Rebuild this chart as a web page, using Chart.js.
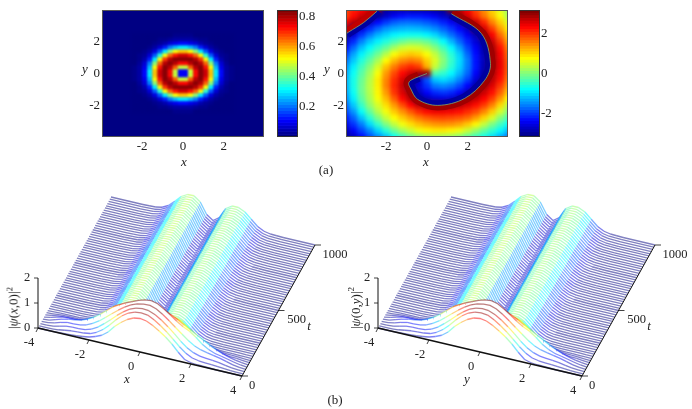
<!DOCTYPE html>
<html><head><meta charset="utf-8">
<script src="https://cdn.jsdelivr.net/npm/chart.js@4/dist/chart.umd.min.js"></script>
<style>
html,body{margin:0;padding:0;background:#fff}
#page{position:relative;width:692px;height:409px;overflow:hidden;font-family:"Liberation Serif",serif;color:#222}
canvas{position:absolute;display:block}
.plot{position:absolute;overflow:hidden;width:160px;height:125px;top:11px;outline:1px solid #555}
.bar{position:absolute;width:19px;height:125px;top:11px;outline:1px solid #333}
.t{position:absolute;font-size:13px;line-height:13px;white-space:nowrap;transform:translate(-50%,-50%)}
.r{transform:translate(-50%,-50%) rotate(-90deg)}
sup{font-size:9px;line-height:0}
</style></head><body><div id="page">
<div class="plot" style="left:103px;background:#000083"><canvas id="ampHeat"></canvas></div>
<div class="plot" style="left:347px"><canvas id="phaseHeat"></canvas></div>
<div class="bar" style="left:278px"></div>
<div class="bar" style="left:520px"></div>
<canvas id="ampAxes"></canvas><canvas id="phaseAxes"></canvas>
<canvas id="ampBar"></canvas><canvas id="phaseBar"></canvas>
<canvas id="fallX"></canvas><canvas id="fallY"></canvas>
<span class="t" style="left:85px;top:68px"><i>y</i></span>
<span class="t" style="left:184px;top:161px"><i>x</i></span>
<span class="t" style="left:327px;top:68px"><i>y</i></span>
<span class="t" style="left:426px;top:161px"><i>x</i></span>
<span class="t" style="left:326px;top:169px">(a)</span>
<span class="t" style="left:335px;top:399px">(b)</span>
<span class="t r" style="left:13px;top:308px">|<i>ψ</i>(<i>x</i>,0)|<sup>2</sup></span>
<span class="t r" style="left:355px;top:308px">|<i>ψ</i>(0,<i>y</i>)|<sup>2</sup></span>
<span class="t" style="left:127px;top:378px"><i>x</i></span>
<span class="t" style="left:467px;top:378px"><i>y</i></span>
<span class="t" style="left:309px;top:325px"><i>t</i></span>
<span class="t" style="left:649px;top:325px"><i>t</i></span>
</div>
<script>
// ---------- panel (a) left: |psi|^2 (hundredths), cells 0.25 wide
const ampCols=[-2.375,-2.125,-1.875,-1.625,-1.375,-1.125,-0.875,-0.625,-0.375,-0.125,0.125,0.375,0.625,0.875,1.125,1.375,1.625,1.875,2.125,2.375];
const ampRows=[2.375,2.125,1.875,1.625,1.375,1.125,0.875,0.625,0.375,0.125,-0.125,-0.375,-0.625,-0.875,-1.125,-1.375,-1.625,-1.875,-2.125,-2.375];
const ampGrid=[
[0,0,0,0,0,0,0,0,1,1,1,1,0,0,0,0,0,0,0,0],
[0,0,0,0,0,1,1,2,3,3,3,3,2,1,1,0,0,0,0,0],
[0,0,0,0,1,2,4,7,9,11,11,9,7,4,2,1,0,0,0,0],
[0,0,0,1,3,7,13,21,26,30,30,26,21,13,7,3,1,0,0,0],
[0,0,1,3,8,18,30,43,52,57,57,52,43,30,18,8,3,1,0,0],
[0,1,2,7,18,35,52,65,72,77,77,72,65,52,35,18,7,2,1,0],
[0,1,4,13,30,52,69,79,83,83,83,83,79,69,52,30,13,4,1,0],
[0,2,7,21,43,65,79,83,79,73,73,79,83,79,65,43,21,7,2,0],
[1,3,9,26,52,72,83,79,66,48,48,66,79,83,72,52,26,9,3,1],
[1,3,11,30,57,77,83,73,48,10,10,48,73,83,77,57,30,11,3,1],
[1,3,11,30,57,77,83,73,48,10,10,48,73,83,77,57,30,11,3,1],
[1,3,9,26,52,72,83,79,66,48,48,66,79,83,72,52,26,9,3,1],
[0,2,7,21,43,65,79,83,79,73,73,79,83,79,65,43,21,7,2,0],
[0,1,4,13,30,52,69,79,83,83,83,83,79,69,52,30,13,4,1,0],
[0,1,2,7,18,35,52,65,72,77,77,72,65,52,35,18,7,2,1,0],
[0,0,1,3,8,18,30,43,52,57,57,52,43,30,18,8,3,1,0,0],
[0,0,0,1,3,7,13,21,26,30,30,26,21,13,7,3,1,0,0,0],
[0,0,0,0,1,2,4,7,9,11,11,9,7,4,2,1,0,0,0,0],
[0,0,0,0,0,1,1,2,3,3,3,3,2,1,1,0,0,0,0,0],
[0,0,0,0,0,0,0,0,1,1,1,1,0,0,0,0,0,0,0,0]];
const ampBarLevels=[0,.02,.04,.06,.08,.1,.12,.14,.16,.18,.2,.22,.24,.26,.28,.3,.32,.34,.36,.38,.4,.42,.44,.46,.48,.5,.52,.54,.56,.58,.6,.62,.64,.66,.68,.7,.72,.74,.76,.78,.8,.82,.84];
const ampBarTicks=[0.2,0.4,0.6,0.8];
const ampMax=0.84;
// ---------- panel (a) right: phase in degrees, cells 0.4 wide
const phaseCols=[-4,-3.6,-3.2,-2.8,-2.4,-2,-1.6,-1.2,-0.8,-0.4,0,0.4,0.8,1.2,1.6,2,2.4,2.8,3.2,3.6,4];
const phaseRows=[4,3.6,3.2,2.8,2.4,2,1.6,1.2,0.8,0.4,0,-0.4,-0.8,-1.2,-1.6,-2,-2.4,-2.8,-3.2,-3.6,-4];
const phaseGrid=[
[110,125,135,150,175,-170,-165,-165,-165,-165,-165,-170,-175,175,160,135,110,85,60,35,10],
[111,133,152,169,-172,-154,-140,-132,-128,-128,-132,-140,-154,-168,172,148,120,93,68,43,15],
[136,158,179,-156,-133,-116,-103,-97,-96,-98,-104,-112,-124,-139,-157,180,153,122,89,62,34],
[160,-177,-148,-121,-100,-83,-75,-71,-69,-71,-77,-87,-101,-117,-135,-155,178,149,114,79,50],
[-178,-150,-117,-92,-71,-59,-48,-42,-40,-40,-47,-58,-76,-96,-116,-139,-161,170,137,98,64],
[-158,-122,-90,-65,-49,-34,-21,-9,-1,-2,-9,-24,-45,-71,-99,-124,-149,-173,154,116,76],
[-135,-98,-67,-45,-26,-9,12,28,33,30,20,2,-21,-46,-78,-111,-138,-165,167,130,89],
[-116,-78,-49,-27,-6,19,44,58,64,59,44,23,-4,-32,-62,-99,-132,-161,173,138,98],
[-100,-64,-34,-11,14,45,69,86,93,87,62,33,3,-26,-57,-91,-130,-159,174,142,102],
[-88,-50,-22,3,31,66,92,113,123,115,74,25,-3,-31,-60,-92,-129,-161,172,142,104],
[-80,-42,-14,13,43,81,110,134,152,164,170,-16,-28,-46,-70,-99,-137,-167,166,138,100],
[-76,-38,-8,19,51,88,120,149,177,-155,-106,-65,-57,-67,-88,-114,-149,-177,158,130,92],
[-78,-38,-6,21,50,89,123,154,-177,-147,-118,-93,-87,-94,-111,-135,-166,169,146,116,80],
[-82,-42,-7,19,48,81,118,148,176,-157,-136,-121,-116,-122,-136,-161,174,153,131,102,64],
[-91,-50,-13,15,42,69,102,134,159,-178,-160,-150,-147,-152,-168,171,154,135,113,82,45],
[-104,-64,-26,7,31,56,81,109,135,156,171,178,179,171,159,146,131,115,90,58,22],
[-116,-82,-43,-10,19,41,64,84,104,122,133,140,140,138,132,121,109,88,63,30,2],
[-130,-101,-66,-31,-2,25,45,63,79,93,103,109,111,109,105,97,80,59,32,3,-20],
[-146,-118,-91,-58,-27,0,23,41,56,68,76,82,84,83,77,64,47,24,-1,-22,-44],
[-165,-137,-112,-87,-60,-32,-8,12,26,40,48,52,52,48,40,26,8,-11,-28,-47,-69],
[-175,-159,-134,-110,-88,-68,-45,-26,-10,2,10,14,12,8,-1,-14,-26,-40,-56,-75,-95]];
const phaseBarLevels=[-3.14,-3,-2.86,-2.72,-2.58,-2.44,-2.3,-2.16,-2.02,-1.88,-1.74,-1.6,-1.46,-1.32,-1.18,-1.04,-.9,-.76,-.62,-.48,-.34,-.2,-.06,.08,.22,.36,.5,.64,.78,.92,1.06,1.2,1.34,1.48,1.62,1.76,1.9,2.04,2.18,2.32,2.46,2.6,2.74,2.88,3.02,3.14];
const phaseBarTicks=[-2,0,2];
const planeTicks=[-2,0,2];
// the phase jump: the curve and the dark red / dark blue rims on its two sides
const cutX=[0,-0.4,-0.79,-0.9,-0.82,-0.46,0.53,1.85,2.83,3.11,2.67,1.19];
const cutY=[0,-0.2,-0.42,-0.62,-0.9,-1.62,-2,-1.56,-0.42,0.62,2.5,3.75];
const rimRedX=[-0.44,-0.87,-1.03,-0.94,-0.57,0.53,1.92,2.95,3.24,2.78,1.26];
const rimRedY=[-0.05,-0.29,-0.6,-0.95,-1.7,-2.16,-1.7,-0.49,0.64,2.58,3.89];
const rimBlueX=[-0.36,-0.71,-0.77,-0.7,-0.35,0.53,1.78,2.71,2.98,2.56,1.12];
const rimBlueY=[-0.35,-0.55,-0.64,-0.85,-1.54,-1.84,-1.42,-0.35,0.6,2.42,3.61];
const cut2X=[-2.44,-3.1,-3.84,-3.95];
const cut2Y=[3.92,3.2,2.6,2.5];
const rim2RedX=[-2.56,-3.2,-3.92,-4.03];
const rim2RedY=[3.98,3.3,2.72,2.62];
const rim2BlueX=[-2.32,-3,-3.76,-3.87];
const rim2BlueY=[3.85,3.1,2.48,2.38];
const fallGrid=[-4,-3.75,-3.5,-3.25,-3,-2.75,-2.5,-2.25,-2,-1.75,-1.5,-1.25,-1,-0.75,-0.5,-0.25,0,0.25,0.5,0.75,1,1.25,1.5,1.75,2,2.25,2.5,2.75,3,3.25,3.5,3.75,4];
const fallTimes=[0,17,33,50,67,83,100,117,133,150,167,183,200,217,233,250,267,283,300,317,333,350,367,383,400,417,433,450,467,483,500,517,533,550,567,583,600,617,633,650,667,683,700,717,733,750,767,783,800,817,833,850,867,883,900,917,933,950,967,983,1000];
const earlyProfiles=[
[0,0,0,.01,.02,.03,.05,.08,.12,.2,.31,.5,.78,1,1.18,1.3,1.34,1.3,1.18,1.02,.84,.62,.35,.12,.05,.03,.02,.01,0,0,0,0,0],
[0,0,0,.02,.06,.1,.12,.13,.17,.28,.45,.68,.95,1.18,1.35,1.45,1.48,1.45,1.32,1.15,.95,.72,.48,.28,.15,.1,.08,.07,.05,.03,.01,0,0],
[0,0,.02,.08,.14,.16,.16,.18,.26,.4,.6,.82,1.05,1.25,1.42,1.52,1.56,1.54,1.44,1.28,1.08,.86,.62,.42,.28,.2,.17,.15,.12,.07,.03,.01,0],
[0,.01,.06,.14,.2,.2,.22,.28,.4,.56,.76,.97,1.17,1.35,1.5,1.6,1.65,1.66,1.58,1.42,1.23,1.02,.82,.62,.46,.36,.3,.25,.2,.13,.06,.02,0],
[0,.02,.1,.18,.24,.27,.32,.42,.56,.74,.95,1.15,1.3,1.43,1.54,1.65,1.73,1.76,1.7,1.55,1.37,1.18,1.02,.9,.72,.5,.35,.25,.2,.14,.08,.03,0],
[0,.05,.12,.18,.2,.2,.22,.3,.42,.6,.82,1.03,1.2,1.3,1.32,1.35,1.4,1.45,1.45,1.38,1.28,1.15,1,.86,.72,.58,.44,.32,.22,.14,.08,.04,.01],
[0,.04,.08,.1,.1,.1,.14,.22,.34,.55,.8,1.02,1.14,1.15,.98,.8,.72,.85,1.05,1.13,1.12,1.03,.88,.7,.52,.38,.26,.16,.1,.07,.06,.03,.01],
[0,.01,.04,.05,.05,.05,.08,.14,.26,.46,.72,.93,1.03,.98,.75,.45,.3,.48,.82,.98,1,.92,.76,.55,.36,.22,.13,.08,.05,.04,.03,.01,0],
[0,.01,.02,.02,.02,.02,.05,.1,.2,.38,.62,.85,.95,.9,.68,.3,.1,.32,.72,.88,.9,.82,.65,.42,.22,.12,.06,.03,.02,.02,.01,.01,0],
[0,0,.01,.01,.01,.01,.02,.05,.13,.3,.54,.76,.88,.87,.66,.24,.04,.24,.66,.82,.83,.73,.52,.28,.12,.05,.02,.01,.01,.01,.01,0,0]];
const ringProfile=[0,0,0,0,0,0,.01,.02,.07,.2,.43,.68,.82,.83,.64,.2,.02,.2,.62,.78,.78,.66,.43,.2,.07,.02,.01,0,0,0,0,0,0];
const xTicks=[-4,-2,0,2,4];
const tTicks=[0,500,1000];
const zTicks=[0,1,2];
const fallColorMax=1.5;

// ---------- helpers
const SERIF='"Liberation Serif",serif';
function clamp01(v){return Math.max(0,Math.min(1,v));}
function jet(v,a){v=clamp01(v);
  const c=k=>Math.round(255*clamp01(1.5-Math.abs(4*v-k)));
  return a===undefined?`rgb(${c(3)},${c(2)},${c(1)})`:`rgba(${c(3)},${c(2)},${c(1)},${a})`;}
function size(id,l,t,w,h){const c=document.getElementById(id);c.width=w;c.height=h;
  c.style.left=l+'px';c.style.top=t+'px';c.style.width=w+'px';c.style.height=h+'px';return c;}
function noPad(a){a.paddingTop=0;a.paddingBottom=0;a.paddingLeft=0;a.paddingRight=0;}
Object.assign(Chart.defaults,{animation:false,responsive:false,events:[]});
Chart.defaults.plugins.legend.display=false;
Chart.defaults.plugins.tooltip.enabled=false;
Chart.defaults.font.family=SERIF;
Chart.defaults.font.size=13;
Chart.defaults.color='#222';
function cells(cols,rows,grid,colorOf){const pts=[],colors=[];
  rows.forEach((y,j)=>cols.forEach((x,i)=>{pts.push({x,y});colors.push(colorOf(grid[j][i]));}));
  return {pts,colors};}
function heat(id,cols,rows,grid,colorOf,halfX,halfY,cellLen,cellH,blur,w,h,l,t){
  const c=size(id,l,t,w,h);c.style.filter=`blur(${blur}px)`;
  const {pts,colors}=cells(cols,rows,grid,colorOf);
  new Chart(c,{type:'scatter',data:{datasets:[{data:pts,showLine:false,pointStyle:'line',pointRadius:cellLen,
    pointBorderWidth:cellH,pointBorderColor:colors,pointBackgroundColor:colors}]},
    options:{layout:{padding:0,autoPadding:false},scales:{x:{display:false,min:-halfX,max:halfX},y:{display:false,min:-halfY,max:halfY}}}});
}
function axesChart(id,plotLeft,extra){
  const c=size(id,plotLeft-40,6,205,152);
  const setTicks=s=>{s.ticks=planeTicks.map(v=>({value:v}));};
  const quiet={display:false,drawTicks:false};
  new Chart(c,{type:'scatter',data:{datasets:extra||[]},options:{layout:{padding:{left:5,top:5,right:5,bottom:0},autoPadding:false},
    scales:{x:{min:-3.92,max:3.92,afterBuildTicks:setTicks,afterFit:a=>{a.height=22;noPad(a);},grid:quiet,border:{display:false},
      ticks:{autoSkip:false,maxRotation:0,padding:3,callback:v=>String(v)}},
    y:{min:-3.92,max:3.92,afterBuildTicks:setTicks,afterFit:a=>{a.width=35;noPad(a);},grid:quiet,border:{display:false},
      ticks:{autoSkip:false,padding:3,callback:v=>String(v)}}}}});
}
function colorBar(id,left,levels,ticks,min,max,colorOf,fmt){
  const c=size(id,left,6,50,135);
  const colors=levels.map(colorOf);
  new Chart(c,{type:'scatter',data:{datasets:[{data:levels.map(v=>({x:0,y:v})),showLine:false,pointStyle:'line',pointRadius:11,
    pointBorderWidth:3.6,pointBorderColor:colors,pointBackgroundColor:colors}]},
    options:{layout:{padding:{top:5,bottom:5,left:0,right:0},autoPadding:false},scales:{x:{display:false,min:-1,max:1},
      y:{position:'right',min,max,afterBuildTicks:s=>{s.ticks=ticks.map(v=>({value:v}));},afterFit:a=>{a.width=31;noPad(a);},
        grid:{display:false,drawTicks:false},border:{display:false},ticks:{autoSkip:false,padding:2,callback:fmt}}}}});
}
const ampColor=p=>jet(p/100/ampMax);
const ampBarColor=v=>jet(v/ampMax);
const phaseColor=d=>jet((d/180+1)/2);
const phaseBarColor=v=>jet((v/Math.PI+1)/2);

heat('ampHeat',ampCols,ampRows,ampGrid,ampColor,3.92,3.92,2.7,4.4,1.3,160,125,0,0);
heat('phaseHeat',phaseCols,phaseRows,phaseGrid,phaseColor,4.214,4.296,4.3,6.9,2.2,172,137,-6,-6);
axesChart('ampAxes',103);
const pair=(xs,ys)=>xs.map((x,i)=>({x,y:ys[i]}));
const curve=(xs,ys,color,w)=>({data:pair(xs,ys),showLine:true,pointRadius:0,borderColor:color,borderWidth:w,tension:.35});
const RIM_RED='#a00000',RIM_BLUE='#0000a0',CUT='rgb(110,170,120)';
axesChart('phaseAxes',347,[
  curve(cutX,cutY,CUT,.8),curve(cut2X,cut2Y,CUT,.8),
  curve(rimRedX,rimRedY,RIM_RED,5),curve(rimBlueX,rimBlueY,RIM_BLUE,5),
  curve(rim2RedX,rim2RedY,'#c00000',5),curve(rim2BlueX,rim2BlueY,RIM_BLUE,5)]);
colorBar('ampBar',278,ampBarLevels,ampBarTicks,0,ampMax,ampBarColor,v=>Number(v).toFixed(1));
colorBar('phaseBar',520,phaseBarLevels,phaseBarTicks,-Math.PI,Math.PI,phaseBarColor,v=>String(v));

// oblique axes of the 3-D frame, in canvas units of the waterfall charts
const frame={ox:38,oy:138,xx:204,xy:48,tx:73,ty:-131,zy:-25};
function project(x,t,z){const a=(x+4)/8,b=t/1000;
  return {x:frame.ox+a*frame.xx+b*frame.tx,y:frame.oy+a*frame.xy+b*frame.ty+z*frame.zy};}
function waterfall(id,left){
  const c=size(id,left,190,352,219);
  const sets=[];
  const seg=(p,q,w)=>({data:[p,q],borderColor:'#111',borderWidth:w,pointRadius:0,fill:false});
  sets.push(seg(project(-4,0,0),project(4,0,0),1.6));
  sets.push(seg(project(4,0,0),project(4,1000,0),1));
  sets.push(seg(project(-4,0,0),project(-4,0,2),1));
  xTicks.forEach(v=>{const p=project(v,0,0);sets.push(seg(p,{x:p.x-2,y:p.y+4},.8));});
  tTicks.forEach(v=>{const p=project(4,v,0);sets.push(seg(p,{x:p.x+6,y:p.y},.8));});
  zTicks.forEach(v=>{const p=project(-4,0,v);sets.push(seg(p,{x:p.x-4,y:p.y},.8));});
  fallTimes.forEach((t,k)=>{
    const prof=k<earlyProfiles.length?earlyProfiles[k]:ringProfile;
    const data=fallGrid.map((x,i)=>({...project(x,t,prof[i]),z:prof[i]}));
    sets.push({data,pointRadius:0,borderWidth:1.3,borderColor:'rgba(0,0,131,.5)',backgroundColor:'#fff',fill:'start',
      segment:{borderColor:ctx=>jet((data[ctx.p0DataIndex].z+data[ctx.p1DataIndex].z)/2/fallColorMax,.5)}});
  });
  const labels={id:'fallLabels',afterDatasetsDraw(ch){
    const g=ch.ctx,sx=ch.scales.x,sy=ch.scales.y;
    g.save();g.font='12.5px '+SERIF;g.fillStyle='#222';g.textAlign='center';g.textBaseline='middle';
    const put=(s,p,dx,dy)=>g.fillText(s,sx.getPixelForValue(p.x)+dx,sy.getPixelForValue(p.y)+dy);
    xTicks.forEach(v=>put(String(v),project(v,0,0),-9,15));
    zTicks.forEach(v=>put(String(v),project(-4,0,v),-11,0));
    tTicks.forEach(v=>put(String(v),project(4,v,0),v===0?10:v===500?18:20,v===0?10:9.5));
    g.restore();}};
  new Chart(c,{type:'line',data:{datasets:sets},plugins:[labels],options:{layout:{padding:0,autoPadding:false},
    plugins:{filler:{drawTime:'beforeDatasetDraw',propagate:false}},
    scales:{x:{type:'linear',display:false,min:0,max:352},y:{type:'linear',display:false,min:0,max:219,reverse:true}}}});
}
waterfall('fallX',0);
waterfall('fallY',340);
</script></body></html>
